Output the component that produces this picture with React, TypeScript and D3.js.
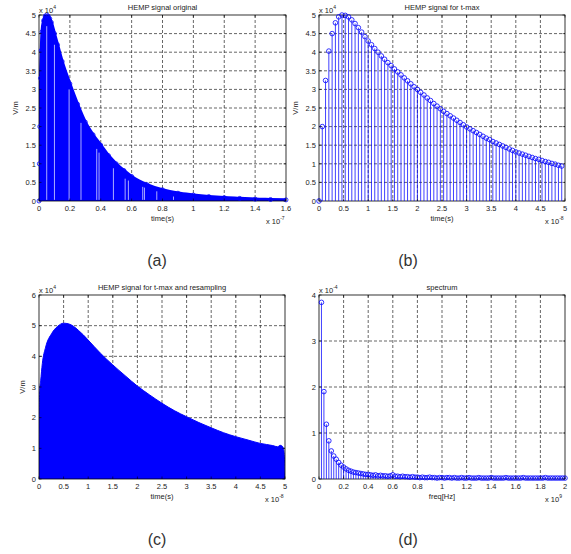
import React from "react";
import * as d3 from "d3";

const W = 571;
const H = 554;
const FONT = "'Liberation Sans', Arial, Helvetica, sans-serif";
const BLUE = "#0000ff";
const TXT = "#222";

// ---------- (a) HEMP signal original  (t in 1e-7 s, E in 1e4 V/m) ----------
const aTime = [0, 0.002, 0.005, 0.01, 0.015, 0.02, 0.03, 0.04, 0.05, 0.06, 0.07, 0.08, 0.1, 0.12, 0.15, 0.2, 0.25, 0.3, 0.35, 0.4, 0.45, 0.5, 0.55, 0.6, 0.7, 0.8, 0.9, 1.0, 1.1, 1.2, 1.3, 1.4, 1.5, 1.6];
const aVal = [0, 1.0, 2.0, 3.3, 4.05, 4.55, 4.85, 4.97, 5.0, 4.97, 4.9, 4.8, 4.5, 4.2, 3.75, 3.15, 2.6, 2.12, 1.78, 1.5, 1.22, 1.0, 0.82, 0.66, 0.44, 0.3, 0.21, 0.16, 0.12, 0.09, 0.07, 0.05, 0.04, 0.03];
const aGapTime = [0.05, 0.1, 0.195, 0.272, 0.374, 0.389, 0.482, 0.558, 0.579, 0.672, 0.683, 0.763, 0.871];
const aGapTop = [4.7, 4.2, 3.0, 2.1, 1.4, 1.3, 0.88, 0.6, 0.55, 0.38, 0.36, 0.26, 0.12];
const aXTicks = [0, 0.2, 0.4, 0.6, 0.8, 1, 1.2, 1.4, 1.6];
const aYTicks = [0, 0.5, 1, 1.5, 2, 2.5, 3, 3.5, 4, 4.5, 5];

// ---------- (b) HEMP signal for t-max (t in 1e-8 s, step 1/15) ----------
const bStep = 1 / 15;
const bVal = [
  0, 2.0, 3.24, 4.03, 4.5, 4.79, 4.95, 5.0, 4.99, 4.95,
  4.87, 4.77, 4.66, 4.54, 4.42, 4.3, 4.2, 4.1, 4.0, 3.9,
  3.81, 3.72, 3.64, 3.55, 3.47, 3.39, 3.31, 3.23, 3.15, 3.07,
  3.0, 2.92, 2.85, 2.77, 2.7, 2.62, 2.55, 2.48, 2.41, 2.35,
  2.29, 2.23, 2.17, 2.11, 2.05, 1.99, 1.94, 1.89, 1.84, 1.79,
  1.74, 1.69, 1.65, 1.6, 1.56, 1.52, 1.48, 1.44, 1.4, 1.36,
  1.32, 1.29, 1.26, 1.23, 1.2, 1.17, 1.14, 1.12, 1.09, 1.06,
  1.04, 1.01, 0.99, 0.96, 0.94,
];
const bXTicks = [0, 0.5, 1, 1.5, 2, 2.5, 3, 3.5, 4, 4.5, 5];
const bYTicks = [0, 0.5, 1, 1.5, 2, 2.5, 3, 3.5, 4, 4.5, 5];

// ---------- (c) HEMP signal for t-max and resampling ----------
const cTime = [0, 0.003, 0.015, 0.034, 0.068, 0.135, 0.26, 0.38, 0.5, 0.6, 0.7, 0.8, 0.9, 1.0, 1.25, 1.5, 1.75, 2.0, 2.25, 2.5, 2.75, 3.0, 3.25, 3.5, 3.75, 4.0, 4.25, 4.5, 4.75, 4.85, 4.9, 4.95, 4.98, 5.0];
const cVal = [0, 1.5, 2.9, 3.2, 3.77, 4.3, 4.75, 4.98, 5.08, 5.06, 4.98, 4.85, 4.7, 4.53, 4.1, 3.72, 3.37, 3.03, 2.74, 2.47, 2.23, 2.03, 1.84, 1.67, 1.51, 1.38, 1.27, 1.16, 1.09, 1.05, 1.1, 1.06, 0.9, 0.15];
const cXTicks = [0, 0.5, 1, 1.5, 2, 2.5, 3, 3.5, 4, 4.5, 5];
const cYTicks = [0, 1, 2, 3, 4, 5, 6];

// ---------- (d) spectrum (f in 1e9 Hz, step 0.02; amplitude in 1e-4) ----------
const dStep = 0.02;
const dVal = [
  3.84, 1.9, 1.19, 0.83, 0.61, 0.5, 0.43, 0.36, 0.3, 0.26,
  0.22, 0.19, 0.17, 0.15, 0.14, 0.13, 0.12, 0.11, 0.1, 0.1,
  0.09, 0.08, 0.09, 0.07, 0.08, 0.07, 0.07, 0.06, 0.07, 0.09,
  0.06, 0.06, 0.05, 0.06, 0.05, 0.05, 0.04, 0.05, 0.04, 0.04,
  0.03, 0.04, 0.03, 0.03, 0.04, 0.03, 0.03, 0.02, 0.03, 0.03,
  0.02, 0.03, 0.03, 0.02, 0.03, 0.02, 0.02, 0.03, 0.02, 0.02,
  0.03, 0.02, 0.02, 0.02, 0.03, 0.02, 0.02, 0.02, 0.02, 0.03,
  0.02, 0.02, 0.02, 0.02, 0.02, 0.03, 0.02, 0.02, 0.02, 0.02,
  0.02, 0.02, 0.03, 0.02, 0.02, 0.02, 0.02, 0.02, 0.02, 0.02,
  0.02, 0.03, 0.02, 0.02, 0.02, 0.02, 0.02, 0.02, 0.02, 0.02,
];
const dXTicks = [0, 0.2, 0.4, 0.6, 0.8, 1, 1.2, 1.4, 1.6, 1.8, 2];
const dYTicks = [0, 1, 2, 3, 4];

type Box = { x0: number; x1: number; y0: number; y1: number };
type Sc = d3.ScaleLinear<number, number>;

function Exp({ x, y, base, sup }: { x: number; y: number; base: string; sup: string }) {
  return (
    <text x={x} y={y} fontSize={7.5} fontFamily={FONT} fill={TXT}>
      {base}
      <tspan dy={-4} fontSize={5}>{sup}</tspan>
    </text>
  );
}

function Panel(props: {
  id: string;
  box: Box;
  xDomain: [number, number];
  yDomain: [number, number];
  xTicks: number[];
  yTicks: number[];
  title: string;
  xLabel: string;
  yLabel?: string;
  yLabelX?: number;
  yExp: string;
  xExp: string;
  render: (x: Sc, y: Sc) => React.ReactNode;
  overlay?: (x: Sc, y: Sc) => React.ReactNode;
}) {
  const { id, box, xDomain, yDomain, xTicks, yTicks, title, xLabel, yLabel, yLabelX, yExp, xExp, render, overlay } = props;
  const x = d3.scaleLinear().domain(xDomain).range([box.x0, box.x1]);
  const y = d3.scaleLinear().domain(yDomain).range([box.y1, box.y0]);
  const tl = 2.5;
  const cx = (box.x0 + box.x1) / 2;
  const cy = (box.y0 + box.y1) / 2;
  return (
    <g>
      <defs>
        <clipPath id={id}>
          <rect x={box.x0} y={box.y0} width={box.x1 - box.x0} height={box.y1 - box.y0} />
        </clipPath>
      </defs>
      <rect x={box.x0} y={box.y0} width={box.x1 - box.x0} height={box.y1 - box.y0} fill="#fff" />
      <g stroke="#000" strokeWidth={0.7} strokeDasharray="3,2" opacity={0.85}>
        {xTicks.slice(1, -1).map((t, i) => (
          <line key={"gx" + i} x1={x(t)} x2={x(t)} y1={box.y0} y2={box.y1} />
        ))}
        {yTicks.slice(1, -1).map((t, i) => (
          <line key={"gy" + i} x1={box.x0} x2={box.x1} y1={y(t)} y2={y(t)} />
        ))}
      </g>
      <g clipPath={`url(#${id})`}>{render(x, y)}</g>
      <rect x={box.x0} y={box.y0} width={box.x1 - box.x0} height={box.y1 - box.y0} fill="none" stroke="#000" strokeWidth={0.8} />
      {overlay ? overlay(x, y) : null}
      <g stroke="#000" strokeWidth={0.6}>
        {xTicks.map((t, i) => (
          <g key={"tx" + i}>
            <line x1={x(t)} x2={x(t)} y1={box.y1} y2={box.y1 - tl} />
            <line x1={x(t)} x2={x(t)} y1={box.y0} y2={box.y0 + tl} />
          </g>
        ))}
        {yTicks.map((t, i) => (
          <g key={"ty" + i}>
            <line x1={box.x0} x2={box.x0 + tl} y1={y(t)} y2={y(t)} />
            <line x1={box.x1} x2={box.x1 - tl} y1={y(t)} y2={y(t)} />
          </g>
        ))}
      </g>
      <g fontSize={7.5} fontFamily={FONT} fill={TXT}>
        {xTicks.map((t, i) => (
          <text key={"lx" + i} x={x(t)} y={box.y1 + 10} textAnchor="middle">
            {String(t)}
          </text>
        ))}
        {yTicks.map((t, i) => (
          <text key={"ly" + i} x={box.x0 - 3} y={y(t) + 2.7} textAnchor="end">
            {String(t)}
          </text>
        ))}
        <text x={cx} y={box.y0 - 5} textAnchor="middle">{title}</text>
        <text x={cx} y={box.y1 + 20} textAnchor="middle">{xLabel}</text>
        {yLabel ? (
          <text x={0} y={0} textAnchor="middle" transform={`translate(${yLabelX},${cy}) rotate(-90)`}>
            {yLabel}
          </text>
        ) : null}
      </g>
      <Exp x={box.x0} y={box.y0 - 2} base="x 10" sup={yExp} />
      <Exp x={box.x1 - 20} y={box.y1 + 23} base="x 10" sup={xExp} />
    </g>
  );
}

function Stems({ x, y, step, start, vals }: { x: Sc; y: Sc; step: number; start: number; vals: number[] }) {
  return (
    <g>
      {vals.map((v, i) => (
        <line key={"s" + i} x1={x(start + i * step)} x2={x(start + i * step)} y1={y(0)} y2={y(v)} stroke={BLUE} strokeWidth={0.75} />
      ))}
      {vals.map((v, i) => (
        <circle key={"c" + i} cx={x(start + i * step)} cy={y(v)} r={2.3} fill="none" stroke={BLUE} strokeWidth={0.8} />
      ))}
    </g>
  );
}

export default function App() {
  const boxA: Box = { x0: 39, x1: 286, y0: 15, y1: 201 };
  const boxB: Box = { x0: 319, x1: 565, y0: 15, y1: 201 };
  const boxC: Box = { x0: 39, x1: 285, y0: 295, y1: 479 };
  const boxD: Box = { x0: 319, x1: 565, y0: 295, y1: 479 };

  return (
    <div style={{ position: "absolute", left: 0, top: 0, width: W, height: H, background: "#fff" }}>
      <svg width={W} height={H} viewBox={`0 0 ${W} ${H}`}>
        <rect width={W} height={H} fill="#fff" />
        <Panel
          id="clipA"
          box={boxA}
          xDomain={[0, 1.6]}
          yDomain={[0, 5]}
          xTicks={aXTicks}
          yTicks={aYTicks}
          title="HEMP signal original"
          xLabel="time(s)"
          yLabel="V/m"
          yLabelX={18}
          yExp="4"
          xExp="-7"
          render={(x, y) => {
            const pts = aTime.map((t, i) => [t, aVal[i]] as [number, number]);
            const area = d3.area<[number, number]>().x((d) => x(d[0])).y0(y(0)).y1((d) => y(d[1])).curve(d3.curveMonotoneX);
            const line = d3.line<[number, number]>().x((d) => x(d[0])).y((d) => y(d[1])).curve(d3.curveMonotoneX);
            return (
              <g>
                <path d={area(pts) || ""} fill={BLUE} />
                {aGapTime.map((t, i) => (
                  <line key={"g" + i} x1={x(t)} x2={x(t)} y1={y(0.03)} y2={y(aGapTop[i])} stroke="#fff" strokeWidth={0.9} opacity={0.75} />
                ))}
                <path d={line(pts) || ""} fill="none" stroke={BLUE} strokeWidth={3.2} />
              </g>
            );
          }}
          overlay={(x, y) => (
            <g>
              {aTime.map((t, i) => (
                <circle key={"m" + i} cx={x(t)} cy={y(aVal[i])} r={2} fill="none" stroke={BLUE} strokeWidth={0.8} />
              ))}
            </g>
          )}
        />
        <Panel
          id="clipB"
          box={boxB}
          xDomain={[0, 5]}
          yDomain={[0, 5]}
          xTicks={bXTicks}
          yTicks={bYTicks}
          title="HEMP signal for t-max"
          xLabel="time(s)"
          yLabel="V/m"
          yLabelX={298}
          yExp="4"
          xExp="-8"
          render={() => null}
          overlay={(x, y) => <Stems x={x} y={y} step={bStep} start={0} vals={bVal} />}
        />
        <Panel
          id="clipC"
          box={boxC}
          xDomain={[0, 5]}
          yDomain={[0, 6]}
          xTicks={cXTicks}
          yTicks={cYTicks}
          title="HEMP signal for t-max and resampling"
          xLabel="time(s)"
          yLabel="V/m"
          yLabelX={25}
          yExp="4"
          xExp="-8"
          render={(x, y) => {
            const pts = cTime.map((t, i) => [t, cVal[i]] as [number, number]);
            const area = d3.area<[number, number]>().x((d) => x(d[0])).y0(y(0)).y1((d) => y(d[1])).curve(d3.curveMonotoneX);
            return <path d={area(pts) || ""} fill={BLUE} stroke={BLUE} strokeWidth={1} />;
          }}
        />
        <Panel
          id="clipD"
          box={boxD}
          xDomain={[0, 2]}
          yDomain={[0, 4]}
          xTicks={dXTicks}
          yTicks={dYTicks}
          title="spectrum"
          xLabel="freq[Hz]"
          yExp="-4"
          xExp="9"
          render={() => null}
          overlay={(x, y) => <Stems x={x} y={y} step={dStep} start={dStep} vals={dVal} />}
        />
        <g fontFamily={FONT} fontSize={16} fill="#333" textAnchor="middle">
          <text x={157} y={266}>(a)</text>
          <text x={408} y={266}>(b)</text>
          <text x={157} y={545}>(c)</text>
          <text x={408} y={545}>(d)</text>
        </g>
      </svg>
    </div>
  );
}
